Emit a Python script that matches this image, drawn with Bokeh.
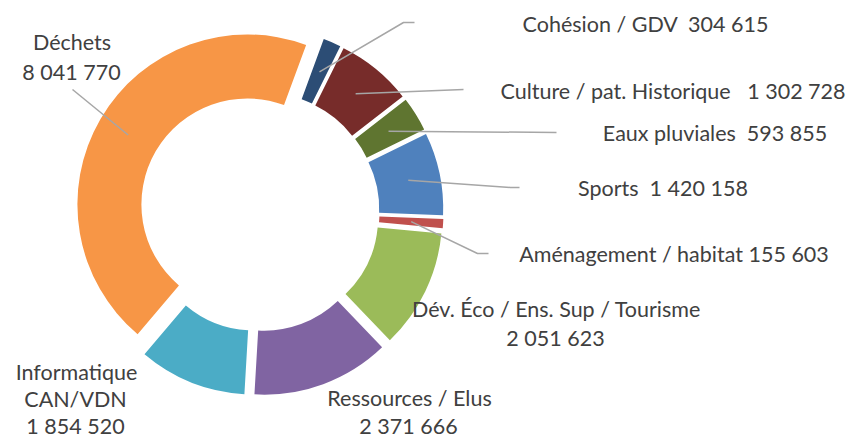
import math
from bokeh.plotting import figure
from bokeh.models import Range1d, ColumnDataSource
from bokeh.embed import file_html
from bokeh.resources import INLINE
from bokeh.core.properties import value

# ---- data (Excel series order) ----
categories = ["Sports", "Aménagement / habitat", "Dév. Éco / Ens. Sup / Tourisme",
              "Ressources / Elus", "Informatique CAN/VDN", "Déchets",
              "Cohésion / GDV", "Culture / pat. Historique", "Eaux pluviales"]
values = [1420158, 155603, 2051623, 2371666, 1854520, 8041770, 304615, 1302728, 593855]
colors = ["#4F81BD", "#C0504D", "#9BBB59", "#8064A2", "#4BACC6", "#F79646",
          "#2C4D75", "#772C2A", "#5F7530"]
NB = "\u00a0"
label_lines = [
    ["Sports" + NB + " 1 420 158"],
    ["Aménagement / habitat 155 603"],
    ["Dév. Éco / Ens. Sup / Tourisme", "2 051 623"],
    ["Ressources / Elus", "2 371 666"],
    ["Informatique", "CAN/VDN", "1 854 520"],
    ["Déchets", "8 041 770"],
    ["Cohésion / GDV" + NB + " 304 615"],
    ["Culture / pat. Historique" + NB + NB + " 1 302 728"],
    ["Eaux pluviales" + NB + " 593 855"],
]

# ---- layout (screen pixels) ----
CX, CY = 259, 211
R_OUT, R_IN = 170, 106
EXPLODE = 14
FIRST_ANGLE = 64.0  # degrees clockwise from 12 o'clock
FONT = "Lato"
FONT_SIZE = "21.5px"
TEXT_COLOR = "#404040"
LEADER_COLOR = "#A6A6A6"
TEXT_DY = -8  # empirical baseline correction

# label anchors: per category, list of (center x, baseline y) per line
label_pos = [
    [(662.5, 195.5)],
    [(673.5, 261)],
    [(556, 316), (555, 345)],
    [(409, 405), (408, 433)],
    [(76, 379), (75, 406), (75, 433)],
    [(71.5, 49.5), (71, 79)],
    [(645, 31)],
    [(672.5, 98)],
    [(714.5, 140)],
]
# leader line waypoints after the slice anchor (None = no leader)
leaders = [
    [(510, 187), (519, 187)],
    [(477, 253), (488, 253)],
    None,
    None,
    None,
    [(72, 89)],
    [(403, 22), (414, 22)],
    [(463, 89)],
    [(556, 132)],
]

W, H = 850, 439
p = figure(width=W, height=H, x_range=Range1d(0, W), y_range=Range1d(-H, 0),
           output_backend="svg", toolbar_location=None, min_border=0)
p.axis.visible = False
p.grid.visible = False
p.outline_line_color = None
p.background_fill_color = "white"
p.border_fill_color = "white"

total = float(sum(values))
xs, ys, sa, ea, anchors = [], [], [], [], []
theta = FIRST_ANGLE
for v in values:
    span = 360.0 * v / total
    t1, t2 = theta, theta + span
    mid = math.radians((t1 + t2) / 2)
    ox = CX + EXPLODE * math.sin(mid)
    oy = CY - EXPLODE * math.cos(mid)
    xs.append(ox)
    ys.append(-oy)
    sa.append(math.radians(90 - t2))
    ea.append(math.radians(90 - t1))
    rm = (R_OUT + R_IN) / 2
    anchors.append((ox + rm * math.sin(mid), oy - rm * math.cos(mid)))
    theta = t2

src = ColumnDataSource(dict(x=xs, y=ys, sa=sa, ea=ea, color=colors, cat=categories, val=values))
p.annular_wedge(x="x", y="y", inner_radius=R_IN, outer_radius=R_OUT,
                start_angle="sa", end_angle="ea",
                fill_color="color", line_color=None, source=src)

# leader lines
lx, ly = [], []
for anc, pts in zip(anchors, leaders):
    if pts is None:
        continue
    path = [anc] + pts
    lx.append([q[0] for q in path])
    ly.append([-q[1] for q in path])
p.multi_line(xs=lx, ys=ly, line_color=LEADER_COLOR, line_width=1.5)

# labels
tx, ty, tt = [], [], []
for lines, poss in zip(label_lines, label_pos):
    for s, (x, y) in zip(lines, poss):
        tx.append(x)
        ty.append(-(y + TEXT_DY))
        tt.append(s)
p.text(x=tx, y=ty, text=tt, text_font=value(FONT), text_font_size=FONT_SIZE,
       text_color=TEXT_COLOR, text_align="center", text_baseline="alphabetic")

open("out.html", "w").write(file_html(p, INLINE))
